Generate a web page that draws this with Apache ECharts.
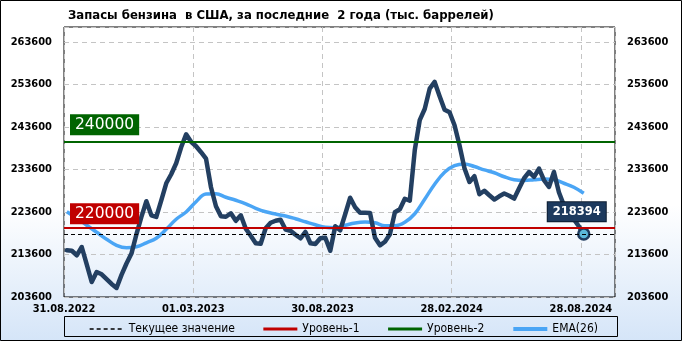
<!DOCTYPE html>
<html><head><meta charset="utf-8">
<script src="https://cdn.jsdelivr.net/npm/echarts@6/dist/echarts.min.js"></script>
<style>html,body{margin:0;padding:0;background:#fff}#c{width:682px;height:341px}</style>
</head><body><div id="c"></div>
<script>
// ---- data ----
const titleText = 'Запасы бензина  в США, за последние  2 года (тыс. баррелей)';
const xTickLabels = ['31.08.2022', '01.03.2023', '30.08.2023', '28.02.2024', '28.08.2024'];
const xTickDays = [0, 182, 364, 546, 728];          // days after 31.08.2022
const firstReadingDay = 4;                           // first weekly reading, days after 31.08.2022
const yTicks = [203600, 213600, 223600, 233600, 243600, 253600, 263600];
// weekly gasoline stocks (thousand barrels)
const stocks = [
  214590, 214470, 213410, 215360, 211290, 207130, 209480, 208940, 207790, 206660,
  205720, 208800, 211480, 213810, 218350, 222450, 226120, 222820, 222420, 226350,
  230350, 232470, 235060, 238820, 241880, 240120, 239060, 237650, 236120, 229410,
  224940, 222590, 222470, 223290, 221530, 222820, 219650, 218000, 216240, 216120,
  219760, 221060, 221530, 221760, 219460, 219180, 218240, 217410, 218890, 216240,
  216070, 217410, 217530, 214470, 220240, 219290, 223060, 226940, 224710, 223410,
  223410, 223360, 217530, 215760, 216590, 218350, 223530, 224240, 226710, 226240,
  238120, 245180, 247810, 252590, 254190, 250820, 247650, 247060, 244000, 239290,
  233880, 230660, 232000, 227760, 228590, 227530, 226520, 227290, 227930, 227410,
  226750, 229180, 231530, 233010, 231840, 233810, 231060, 229480, 233010, 228240,
  225180, 223530, 221880, 220240, 218394
];
// EMA(26), read every second week
const emaStepWeeks = 2;
const ema26 = [
  223650, 222120, 220470, 218820, 217180, 215760, 215180, 215410, 216350, 217410,
  219530, 221880, 223600, 226000, 227810, 227880, 227060, 226350, 225530, 224470,
  223650, 223110, 222640, 222000, 221290, 220590, 220000, 219880, 220470, 221010,
  221220, 221060, 220350, 220350, 221180, 223180, 226590, 230120, 232940, 234470,
  234870, 234280, 233480, 232820, 231880, 231180, 231010, 231180, 231340, 231180,
  230350, 229410, 228000
];
const level1 = 220000;
const level2 = 240000;
const currentValue = 218394;
const legendNames = ['Текущее значение', 'Уровень-1', 'Уровень-2', 'EMA(26)'];

// ---- chart ----
const FC = "'DejaVu Sans Condensed', 'DejaVu Sans', sans-serif";
const C_CUR = '#000', C_L1 = '#c00000', C_L2 = '#006400', C_EMA = '#4aa5f5', C_MAIN = '#233f61';
const dayOfWeek = i => firstReadingDay + 7 * i;
const stockData = stocks.map((v, i) => {
  if (i !== stocks.length - 1) return [dayOfWeek(i), v];
  return {
    value: [dayOfWeek(i), v],
    symbol: 'circle', symbolSize: 11,
    itemStyle: { color: '#5cb8d9', borderColor: '#1f3b5e', borderWidth: 2.5 },
    label: {
      show: true, position: 'top', distance: 6, offset: [-7, 0],
      formatter: p => String(p.value[1]),
      backgroundColor: '#1d3a5e', borderColor: '#0c1c30', borderWidth: 1,
      color: '#fff', fontWeight: 'bold', fontSize: 11.5, fontFamily: 'DejaVu Sans',
      padding: [4, 5, 3, 5]
    }
  };
});
const emaData = ema26.map((v, k) => [dayOfWeek(k * emaStepWeeks), v]);

const chart = echarts.init(document.getElementById('c'), null, { renderer: 'canvas' });
const splitStyle = { type: [5, 4], color: '#c4c4c4', width: 1 };
const axisLbl = { color: '#000', fontWeight: 'bold', fontSize: 11, fontFamily: FC };
function levelMark(val, color, dist) {
  return {
    silent: true, symbol: 'none', animation: false,
    lineStyle: { color: color, width: 2, type: 'solid' },
    label: {
      show: true, position: 'insideStartTop', distance: dist,
      formatter: String(val), color: '#fff', backgroundColor: color,
      fontSize: 15.5, fontFamily: 'DejaVu Sans', padding: [3, 5, 2, 5]
    },
    data: [{ yAxis: val }]
  };
}
chart.setOption({
  animation: false,
  backgroundColor: {
    type: 'linear', x: 0, y: 0, x2: 0, y2: 1,
    colorStops: [{ offset: 0, color: '#ffffff' }, { offset: 0.6, color: '#ffffff' }, { offset: 1, color: '#d5e5f8' }]
  },
  title: {
    text: titleText, left: 63, top: 4,
    textStyle: { fontSize: 13, fontWeight: 'bold', fontFamily: FC, color: '#000' }
  },
  grid: { left: 64, right: 67, top: 27, bottom: 44, show: true, borderColor: '#000', borderWidth: 1, backgroundColor: 'transparent' },
  xAxis: {
    type: 'value', min: 0, max: 776, interval: 182,
    axisLine: { show: false }, axisTick: { show: false },
    axisLabel: Object.assign({}, axisLbl, {
      margin: 7, showMaxLabel: false,
      formatter: v => { const k = xTickDays.indexOf(v); return k >= 0 ? xTickLabels[k] : ''; }
    }),
    splitLine: { show: true, lineStyle: splitStyle }
  },
  yAxis: [
    {
      type: 'value', min: yTicks[0], max: 267100, interval: yTicks[1] - yTicks[0], position: 'left',
      axisLine: { show: false }, axisTick: { show: false },
      axisLabel: Object.assign({}, axisLbl, { margin: 12, showMaxLabel: false,
        formatter: v => yTicks.indexOf(v) >= 0 ? String(v) : '' }),
      splitLine: { show: true, lineStyle: splitStyle }
    },
    {
      type: 'value', min: yTicks[0], max: 267100, interval: yTicks[1] - yTicks[0], position: 'right',
      axisLine: { show: false }, axisTick: { show: false },
      axisLabel: Object.assign({}, axisLbl, { margin: 12, showMaxLabel: false,
        formatter: v => yTicks.indexOf(v) >= 0 ? String(v) : '' }),
      splitLine: { show: false }
    }
  ],
  legend: {
    data: [
      { name: legendNames[0], lineStyle: { width: 1.3, color: C_CUR, type: [4, 3] } },
      { name: legendNames[1], lineStyle: { width: 3, color: C_L1 } },
      { name: legendNames[2], lineStyle: { width: 3, color: C_L2 } },
      { name: legendNames[3], lineStyle: { width: 4, color: C_EMA } }
    ],
    left: 84, top: 318, itemWidth: 34, itemHeight: 14, itemGap: 27,
    itemStyle: { opacity: 0 },
    textStyle: { fontSize: 12, fontFamily: FC, color: '#000' }
  },
  graphic: [
    { type: 'rect', shape: { x: 64.5, y: 316.5, width: 553, height: 20 }, style: { fill: 'none', stroke: '#000', lineWidth: 1 }, z: 10 },
    { type: 'rect', shape: { x: 0.5, y: 0.5, width: 681, height: 340 }, style: { fill: 'none', stroke: '#000', lineWidth: 1 }, z: 10 }
  ],
  series: [
    {
      name: legendNames[0], type: 'line', data: [], symbol: 'none', z: 1,
      lineStyle: { color: C_CUR, width: 1.3, type: [4, 3] }, itemStyle: { color: C_CUR },
      markLine: { silent: true, symbol: 'none', label: { show: false },
        lineStyle: { color: C_CUR, width: 1, type: [4, 3] }, data: [{ yAxis: currentValue }] }
    },
    {
      name: legendNames[1], type: 'line', data: [], symbol: 'none', z: 1,
      lineStyle: { color: C_L1, width: 3 }, itemStyle: { color: C_L1 },
      markLine: levelMark(level1, C_L1, [6, 3])
    },
    {
      name: legendNames[2], type: 'line', data: [], symbol: 'none', z: 1,
      lineStyle: { color: C_L2, width: 3 }, itemStyle: { color: C_L2 },
      markLine: levelMark(level2, C_L2, [6, 7])
    },
    {
      name: legendNames[3], type: 'line', data: emaData, symbol: 'none', smooth: 0.4, z: 2,
      lineStyle: { color: C_EMA, width: 3.5 }, itemStyle: { color: C_EMA }
    },
    {
      name: 'Запасы', type: 'line', data: stockData, symbol: 'none', z: 3,
      lineStyle: { color: C_MAIN, width: 4.5, join: 'round', cap: 'round' },
      itemStyle: { color: C_MAIN }
    }
  ]
});
</script>
</body></html>
